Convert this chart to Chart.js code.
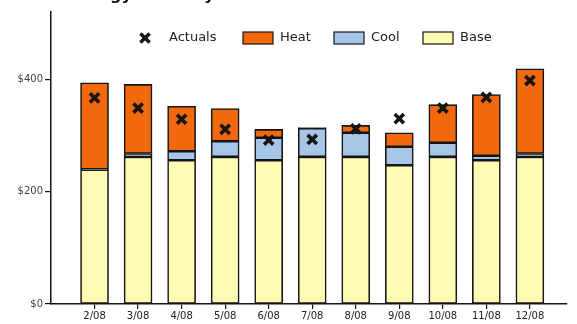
<!DOCTYPE html>
<html>
<head>
<meta charset="utf-8">
<script src="https://cdn.jsdelivr.net/npm/chart.js@4/dist/chart.umd.min.js"></script>
<style>
  html, body { margin: 0; padding: 0; background: #fff; overflow: hidden; }
  canvas { display: block; }
</style>
</head>
<body>
<canvas id="c" width="577" height="324"></canvas>
<script>
// Monthly energy cost breakdown (USD)
const months  = ['2/08', '3/08', '4/08', '5/08', '6/08', '7/08', '8/08', '9/08', '10/08', '11/08', '12/08'];
const base    = [239, 262, 256, 262, 256, 262, 262, 247, 262, 256, 262];
const cool    = [1, 6, 16, 28, 40, 51, 43, 33, 25, 8, 6];
const heat    = [154, 123, 80, 58, 15, 1, 13, 25, 68, 109, 151];
const actuals = [367, 349, 329, 311, 292, 293, 312, 330, 349, 368, 398];
const yTicks  = [0, 200, 400];
const chartTitle = 'Energy Costs by Month';

const FONT = "'DejaVu Sans', Verdana, sans-serif";
const INK = '#151515';

const toPoints = (arr) => arr.map((v, i) => ({ x: i + 1, y: v }));

const barStyle = {
  borderColor: INK,
  borderWidth: 1.6,
  borderSkipped: false,
  barThickness: 28,
  order: 1,
  stack: 'cost'
};

// Title sits at the very top edge; only its lower part falls inside the canvas.
const titlePlugin = {
  id: 'topTitle',
  afterDraw(chart) {
    const ctx = chart.ctx;
    ctx.save();
    ctx.font = "bold 16px " + FONT;
    ctx.fillStyle = '#111';
    ctx.textBaseline = 'alphabetic';
    const lead = ctx.measureText('Ener').width;
    ctx.fillText(chartTitle, 110 - lead, 0);
    ctx.restore();
  }
};

// Legend drawn inside the plot area: marker for Actuals, swatches for the stacks.
const legendPlugin = {
  id: 'insideLegend',
  afterDraw(chart) {
    const ctx = chart.ctx;
    const order = [3, 2, 1, 0];
    const itemLeft = [130, 243, 334, 423];
    const cy = 38;
    ctx.save();
    ctx.font = "13px " + FONT;
    ctx.textBaseline = 'middle';
    order.forEach((idx, k) => {
      const ds = chart.data.datasets[idx];
      const x = itemLeft[k];
      let tx;
      if (ds.type === 'line') {
        ctx.strokeStyle = ds.pointBorderColor;
        ctx.lineWidth = ds.pointBorderWidth;
        Chart.helpers.drawPoint(ctx, { pointStyle: 'crossRot', radius: ds.pointRadius, rotation: 0, borderWidth: ds.pointBorderWidth }, x + 15, cy);
        tx = x + 39;
      } else {
        ctx.fillStyle = ds.backgroundColor;
        ctx.strokeStyle = INK;
        ctx.lineWidth = 1.2;
        ctx.fillRect(x, cy - 6, 30, 12);
        ctx.strokeRect(x, cy - 6, 30, 12);
        tx = x + 37;
      }
      ctx.fillStyle = '#222';
      ctx.fillText(ds.label, tx, cy);
    });
    ctx.restore();
  }
};

const bgPlugin = {
  id: 'whiteBg',
  beforeDraw(chart) {
    const ctx = chart.ctx;
    ctx.save();
    ctx.fillStyle = '#fff';
    ctx.fillRect(0, 0, chart.width, chart.height);
    ctx.restore();
  }
};

new Chart(document.getElementById('c'), {
  type: 'bar',
  data: {
    datasets: [
      Object.assign({ label: 'Base', data: toPoints(base), backgroundColor: '#FFFBB4' }, barStyle),
      Object.assign({ label: 'Cool', data: toPoints(cool), backgroundColor: '#A7C5E6' }, barStyle),
      Object.assign({ label: 'Heat', data: toPoints(heat), backgroundColor: '#F2680C' }, barStyle),
      {
        type: 'line',
        label: 'Actuals',
        data: toPoints(actuals),
        showLine: false,
        yAxisID: 'yActual',
        pointStyle: 'crossRot',
        pointRadius: 6.5,
        pointBorderWidth: 3.6,
        pointBorderColor: INK,
        pointBackgroundColor: INK,
        order: 0
      }
    ]
  },
  options: {
    responsive: false,
    animation: false,
    layout: { padding: { top: 12, left: 0, right: 0, bottom: 0 } },
    plugins: { legend: { display: false }, tooltip: { enabled: false }, title: { display: false } },
    scales: {
      x: {
        type: 'linear',
        min: 0,
        max: 11.85,
        stacked: true,
        offset: false,
        afterBuildTicks(scale) {
          scale.ticks = months.map((_, i) => ({ value: i + 1 }));
        },
        afterFit(scale) { scale.height = 20; },
        ticks: {
          autoSkip: false,
          maxRotation: 0,
          padding: 1,
          color: '#222',
          font: { family: FONT, size: 10 },
          callback: (v) => months[v - 1] || ''
        },
        grid: { offset: false, drawOnChartArea: false, drawTicks: true, tickLength: 5, color: INK, lineWidth: 1.2 },
        border: { display: true, color: INK, width: 1.5 }
      },
      y: {
        stacked: true,
        min: 0,
        max: 520,
        afterBuildTicks(scale) {
          scale.ticks = yTicks.map((v) => ({ value: v }));
        },
        afterFit(scale) { scale.width = 51; },
        ticks: {
          padding: 2,
          color: '#444',
          font: { family: FONT, size: 10 },
          callback: (v) => '$' + v
        },
        grid: { drawOnChartArea: false, drawTicks: true, tickLength: 6, color: INK, lineWidth: 1.2 },
        border: { display: true, color: INK, width: 1.5 }
      },
      yActual: {
        display: false,
        stacked: false,
        min: 0,
        max: 520
      }
    }
  },
  plugins: [bgPlugin, legendPlugin, titlePlugin]
});
</script>
</body>
</html>
